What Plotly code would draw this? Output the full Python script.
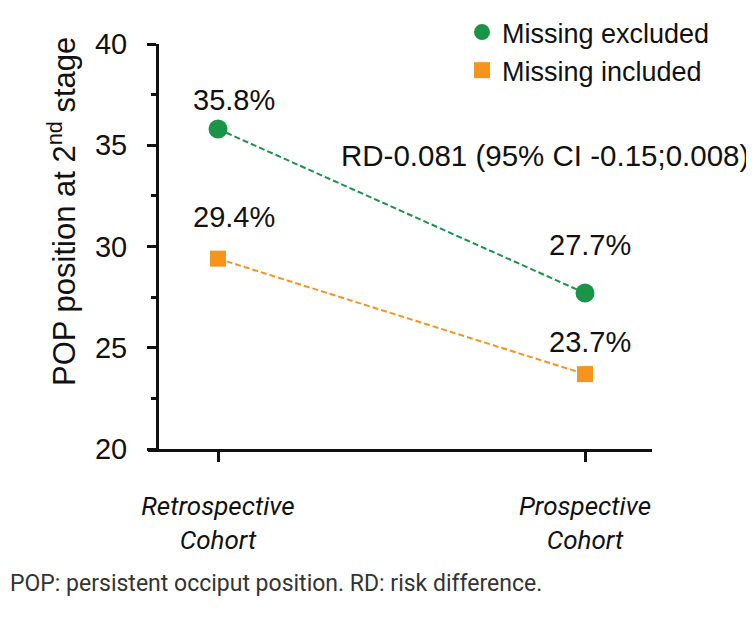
import plotly.graph_objects as go

categories = ["Retrospective<br>Cohort", "Prospective<br>Cohort"]
excluded = [35.8, 27.7]
included = [29.4, 23.7]
series_names = ["Missing excluded", "Missing included"]
y_ticks = [20, 25, 30, 35, 40]
rd_text = "RD-0.081 (95% CI -0.15;0.008)"
footer = "POP: persistent occiput position. RD: risk difference."

GREEN = "#1a9547"
ORANGE = "#f7941d"
W, H = 754, 625
OFF = 8  # page body offset
B = H - (449 - OFF)  # bottom margin (px)
PH = H - B  # paper height in px


def px(x):
    return (x - OFF) / W


def py(y):
    return (H - B - (y - OFF)) / PH


xpos = list(range(len(categories)))

fig = go.Figure()
for vals, name, color, sym, size in [
    (excluded, series_names[0], GREEN, "circle", 19),
    (included, series_names[1], ORANGE, "square", 16),
]:
    fig.add_trace(go.Scatter(
        x=xpos, y=vals, mode="lines+markers", name=name, showlegend=False,
        line=dict(color=color, width=2, dash="6px,3px"),
        marker=dict(symbol=sym, size=size, color=color),
    ))
    fig.add_trace(go.Scatter(
        x=[None], y=[None], mode="markers", name=name, legendgroup=name,
        marker=dict(symbol=sym, size=size, color=color),
    ))

label_shift = {(0, 0): 29, (0, 1): 42, (1, 0): 48, (1, 1): 32}
for si, vals in enumerate([excluded, included]):
    for xi, v in enumerate(vals):
        fig.add_annotation(
            x=xpos[xi], y=v, text=f"{v:.1f}%", showarrow=False,
            xshift=16 if xi == 0 else 5, yshift=label_shift[(xi, si)],
            font=dict(family="Liberation Sans", size=29, color="#111111"),
        )

fig.add_annotation(
    xref="paper", yref="paper", x=px(545), y=py(155), text=rd_text, showarrow=False,
    xanchor="center", yanchor="middle",
    font=dict(family="Liberation Sans", size=29.5, color="#111111"),
)

fig.add_annotation(
    xref="paper", yref="paper", x=px(62), y=py(212),
    text="POP position at 2<sup>nd</sup> stage", textangle=-90,
    showarrow=False, xanchor="center", yanchor="middle",
    font=dict(family="Liberation Sans", size=31, color="#111111"),
)

fig.add_annotation(
    xref="paper", yref="paper", x=0, y=py(583),
    xanchor="left", yanchor="middle", text=footer, showarrow=False,
    font=dict(family="Roboto", size=23, color="#333333"),
)

fig.update_layout(
    width=W, height=H,
    margin=dict(l=0, r=0, t=0, b=B, autoexpand=False),
    plot_bgcolor="white", paper_bgcolor="white",
    showlegend=True,
    legend=dict(
        x=px(462), y=1, xanchor="left", yanchor="top",
        font=dict(family="Liberation Sans", size=27, color="#111111"),
        bgcolor="rgba(0,0,0,0)", tracegroupgap=0, itemsizing="trace",
    ),
    xaxis=dict(
        domain=[px(148), px(652)],
        range=[-70 / 367, 434 / 367], tickvals=xpos, ticktext=categories,
        showline=True, linecolor="#111111", linewidth=3,
        ticks="outside", ticklen=10, tickwidth=3, tickcolor="#111111",
        showgrid=False, zeroline=False, ticklabelstandoff=22, automargin=False,
        tickfont=dict(family="Roboto", size=26, color="#111111", style="italic"),
    ),
    yaxis=dict(
        domain=[0, py(44)],
        range=[20, 40], tickvals=y_ticks, anchor="free", position=px(157),
        showline=True, linecolor="#111111", linewidth=3,
        ticks="outside", ticklen=9, tickwidth=3, tickcolor="#111111",
        minor=dict(tickvals=[22.5, 27.5, 32.5, 37.5], ticks="outside", ticklen=5,
                   tickwidth=3, tickcolor="#111111", showgrid=False),
        showgrid=False, zeroline=False, ticklabelstandoff=14, automargin=False,
        tickfont=dict(family="Liberation Sans", size=29, color="#111111"),
    ),
)

fig.write_html("out.html")
